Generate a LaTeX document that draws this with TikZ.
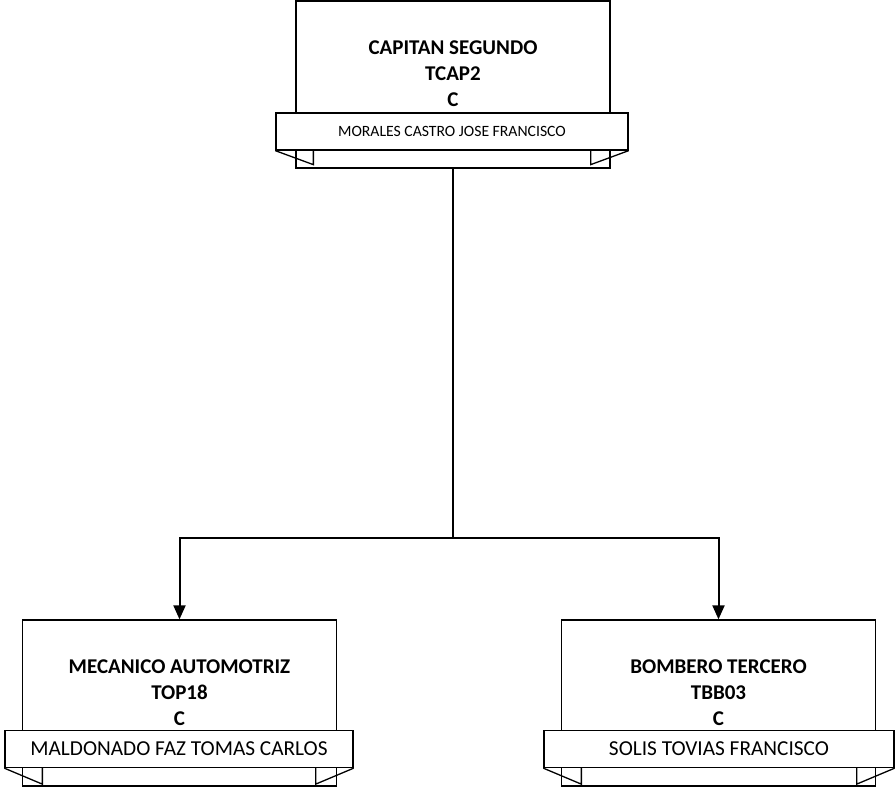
\documentclass[tikz,border=0pt]{standalone}
\usepackage{fontspec}
\setmainfont{Carlito}
\usepackage{tikz}
\usetikzlibrary{arrows.meta,positioning,calc}
\tikzset{
  postbox/.style={draw, line width=1.3pt, fill=white,
                  minimum width=314pt, minimum height=#1, inner sep=0pt},
  postbox/.default=167pt,
  ttl/.style    ={align=center, font=\fontsize{21}{26}\selectfont\bfseries,
                  inner sep=0pt},
  ribbon/.style ={draw, line width=1.3pt, fill=white, inner sep=0pt,
                  minimum width=#1, minimum height=37pt,
                  font=\fontsize{21.3}{24}\selectfont},
  ribbon/.default=350pt,
  tail/.style   ={line width=1.3pt},
  arr/.style    ={-{Triangle[length=14pt,width=12pt]}, line width=2pt},
}

\begin{document}
\begin{tikzpicture}[x=1pt,y=-1pt]
  \useasboundingbox (0,0) rectangle (895,788);

  % top post
  \node[postbox] (cap) at (453,84.5) {};
  \node[ttl] (capt) at (453,74) {CAPITAN SEGUNDO\\TCAP2\\C};
  \node[ribbon=352pt, font=\fontsize{15.7}{18}\selectfont] (capr) at (452,131.5)
        {MORALES CASTRO JOSE FRANCISCO};
  \draw[tail] (capr.south west) -- ++(38,14) -- ++(0,-14);
  \draw[tail] (capr.south east) -- ++(-38,14) -- ++(0,-14);

  % left post
  \node[postbox=166pt] (mec) at (179.5,703) {};
  \node[ttl] (mect) at (179.5,693) {MECANICO AUTOMOTRIZ\\TOP18\\C};
  \node[ribbon=348pt] (mecr) at (179,749) {MALDONADO FAZ TOMAS CARLOS};
  \draw[tail] (mecr.south west) -- ++(38,16) -- ++(0,-16);
  \draw[tail] (mecr.south east) -- ++(-38,16) -- ++(0,-16);

  % right post
  \node[postbox=166pt] (bom) at (718.5,703) {};
  \node[ttl] (bomt) at (718.5,693) {BOMBERO TERCERO\\TBB03\\C};
  \node[ribbon=350pt] (bomr) at (719,749) {SOLIS TOVIAS FRANCISCO};
  \draw[tail] (bomr.south west) -- ++(38,16) -- ++(0,-16);
  \draw[tail] (bomr.south east) -- ++(-38,16) -- ++(0,-16);

  \coordinate (bus) at (453,538);
  \draw[line width=2pt] (cap.south) -- (bus);
  \draw[arr] (bus) -| (mec.north);
  \draw[arr] (bus) -| (bom.north);
\end{tikzpicture}
\end{document}
